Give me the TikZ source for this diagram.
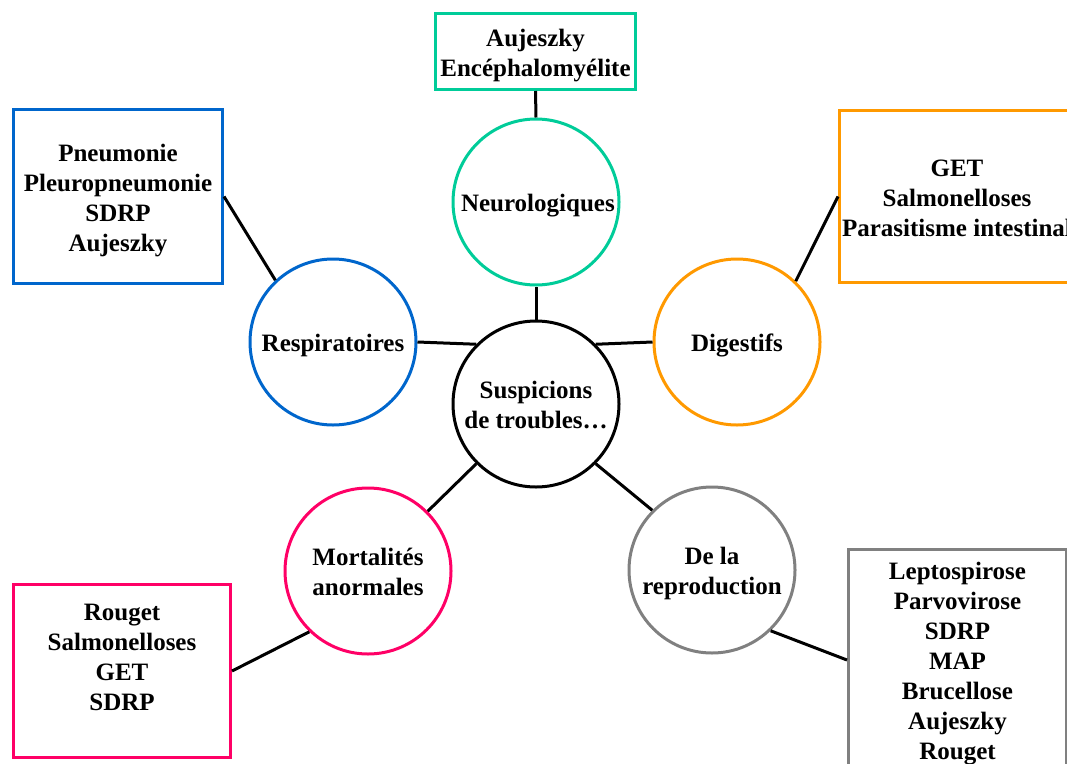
\documentclass[tikz,border=0pt]{standalone}
\usepackage{fontspec}
\setmainfont{Liberation Serif}
\usepackage{tikz}
\definecolor{neurogreen}{RGB}{0,204,153}
\definecolor{respblue}{RGB}{0,102,204}
\definecolor{digorange}{RGB}{255,153,0}
\definecolor{mortpink}{RGB}{255,0,102}
\definecolor{reprogray}{RGB}{128,128,128}

\begin{document}
\begin{tikzpicture}[x=1pt, y=-1pt, line width=3pt,
        every node/.style={align=flush center, inner sep=0pt, font=\bfseries\fontsize{25}{30}\selectfont,
            execute at begin node={\rule{0pt}{25pt}}, execute at end node={\rule[-6pt]{0pt}{0pt}}},
        theme/.style={circle, draw, minimum size=166pt, text width=150pt},
        list/.style 2 args={rectangle, draw, minimum width=#1, text width=#1, minimum height=#2}]
        \clip (0,0) rectangle (1067,763);
        \node[theme] (susp) at (536,404) {Suspicions\\de troubles…};
        \node[theme, draw=neurogreen] (neuro) at (536,202) {Neurologiques};
        \node[theme, draw=respblue] (resp) at (333,342) {Respiratoires};
        \node[theme, draw=digorange] (dig) at (737,342) {Digestifs};
        \node[theme, draw=mortpink] (mort) at (368,571) {Mortalités\\anormales};
        \node[theme, draw=reprogray] (repro) at (712,570) {De la\\reproduction};
        \node[list={200pt}{76pt}, draw=neurogreen] (neurolist) at (535.5,51.5) {Aujeszky\\Encéphalomyélite};
        \node[list={209pt}{174pt}, draw=respblue] (resplist) at (118,196.5) {Pneumonie\\Pleuropneumonie\\SDRP\\Aujeszky};
        \node[list={235pt}{172pt}, draw=digorange] (diglist) at (957,196.5) {GET\\Salmonelloses\\Parasitisme intestinal};
        \node[list={217pt}{173pt}, draw=mortpink] (mortlist) at (122,671) {Rouget\\Salmonelloses\\GET\\SDRP\\~};
        \node[list={218pt}{221pt}, draw=reprogray] (reprolist) at (957.5,660) {Leptospirose\\Parvovirose\\SDRP\\MAP\\Brucellose\\Aujeszky\\Rouget};
        \draw (susp.north) -- (neuro.south);
        \draw (susp.135) -- (resp.east);
        \draw (susp.45) -- (dig.west);
        \draw (susp.225) -- (mort.45);
        \draw (susp.-45) -- (repro.135);
        \draw (neuro.north) -- (neurolist.south);
        \draw (resp.133) -- (resplist.east);
        \draw (dig.46) -- (diglist.west);
        \draw (mort.226) -- (mortlist.east);
        \draw (repro.-46) -- (reprolist.west);
    \end{tikzpicture}
\end{document}
